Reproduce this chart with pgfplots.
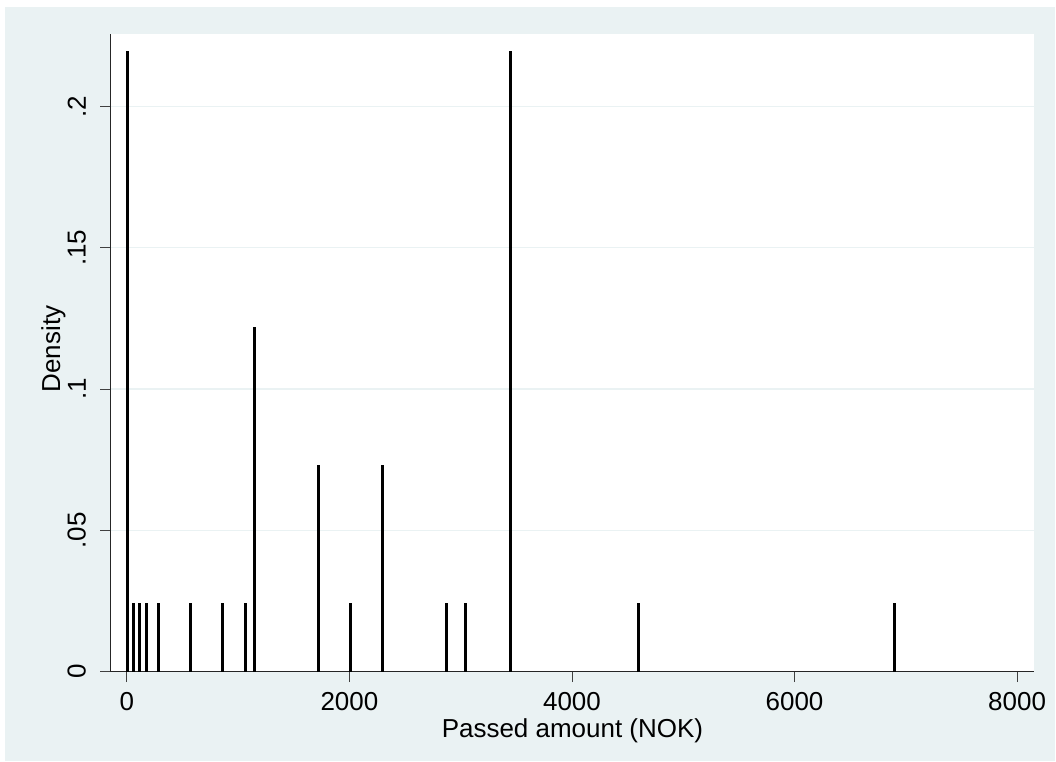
\documentclass[border=0pt]{standalone}
\usepackage{fontspec}
\setmainfont{Liberation Sans}
\usepackage{pgfplots}
\pgfplotsset{compat=1.18}
\definecolor{stbg}{HTML}{EAF2F3}
\begin{document}
\begin{tikzpicture}[x=1pt,y=1pt]
\path[fill=white] (0,0) rectangle (1056,762);
\fill[stbg] (5,0) rectangle (1056,755);
\begin{axis}[
  at={(110.7pt,90pt)}, anchor=south west,
  scale only axis, width=924.3pt, height=638pt,
  xmin=-146, xmax=8154, ymin=0, ymax=0.2257,
  axis lines*=left,
  axis line style={black!85, line width=0.9pt},
  axis background/.style={fill=white},
  xtick={0,2000,4000,6000,8000},
  xticklabels={0,2000,4000,6000,8000},
  ytick={0,0.05,0.1,0.15,0.2},
  yticklabels={0,.05,.1,.15,.2},
  tick align=outside,
  major tick length=10.5pt,
  tick style={black!75, line width=0.8pt},
  ymajorgrids,
  grid style={stbg, line width=1.4pt},
  /pgf/number format/assume math mode=true,
  every tick label/.append style={font=\fontsize{26}{30}\selectfont, text=black},
  yticklabel style={rotate=90, anchor=south, inner sep=14pt},
  xticklabel style={inner sep=10pt},
  xlabel={Passed amount (NOK)},
  ylabel={Density},
  every axis x label/.style={at={(axis description cs:0.5,-0.0925)}, anchor=center, font=\fontsize{26}{30}\selectfont},
  every axis y label/.style={at={(axis description cs:-0.062,0.506)}, rotate=90, anchor=center, font=\fontsize{26}{30}\selectfont},
  clip=false,
]
\addplot[ycomb, black, line width=3pt, mark=none, line cap=butt] table {
x y
3 0.21951
57.5 0.02439
115 0.02439
172.5 0.02439
287.5 0.02439
575 0.02439
862.5 0.02439
1063 0.02439
1150 0.12195
1725 0.07317
2012.5 0.02439
2300 0.07317
2875 0.02439
3045 0.02439
3450 0.21951
4600 0.02439
6900 0.02439
};
\end{axis}
\end{tikzpicture}
\end{document}
